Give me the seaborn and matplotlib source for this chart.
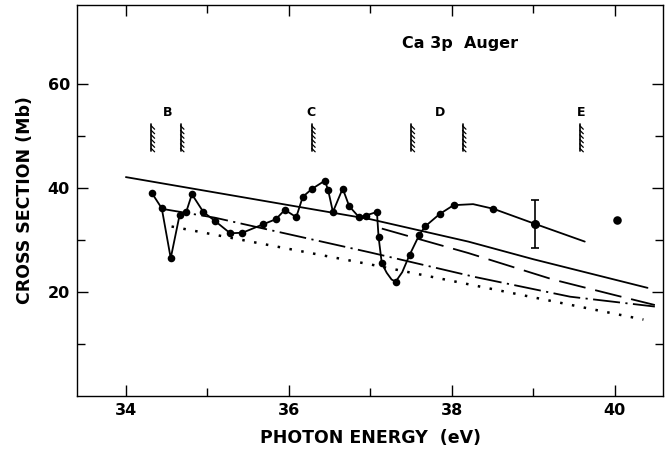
import matplotlib
matplotlib.use("Agg")
import matplotlib.pyplot as plt
import matplotlib.patheffects as pe
from matplotlib.ticker import FixedLocator
import seaborn as sns
import pandas as pd

# ---------------- data ----------------
# measured points (filled circles)
energy_pts = [34.32, 34.44, 34.55, 34.66, 34.74, 34.81, 34.95, 35.09, 35.28, 35.43,
              35.68, 35.84, 35.95, 36.09, 36.17, 36.28, 36.44, 36.48, 36.54, 36.66,
              36.74, 36.86, 36.94, 37.08, 37.10, 37.14, 37.31, 37.48, 37.60, 37.67,
              37.85, 38.02, 38.51]
xsec_pts = [39.0, 36.1, 26.5, 34.9, 35.4, 38.8, 35.4, 33.7, 31.3, 31.4,
            33.0, 34.0, 35.8, 34.4, 38.3, 39.8, 41.4, 39.7, 35.4, 39.9,
            36.5, 34.4, 34.7, 35.4, 30.6, 25.5, 22.0, 27.1, 31.0, 32.6,
            35.0, 36.7, 36.0]

# point with error bar
err_energy = [39.02]
err_xsec = [33.1]
err_size = [4.6]

# isolated point
lone_energy = [40.03]
lone_xsec = [33.8]

# drawn guide curve through the data
trace_energy = [34.32, 34.44, 34.55, 34.66, 34.74, 34.81, 34.95, 35.09, 35.28, 35.43,
                35.68, 35.84, 35.95, 36.09, 36.17, 36.28, 36.44, 36.48, 36.54, 36.66,
                36.74, 36.86, 36.94, 37.08, 37.10, 37.14, 37.20, 37.26, 37.31, 37.39,
                37.48, 37.60, 37.67, 37.85, 38.02, 38.26, 38.51, 39.02, 39.63]
trace_xsec = [39.0, 36.1, 26.5, 34.9, 35.4, 38.8, 35.4, 33.7, 31.3, 31.4,
              33.0, 34.0, 35.8, 34.4, 38.3, 39.8, 41.4, 39.7, 35.4, 39.9,
              36.5, 34.4, 34.7, 35.4, 30.6, 25.5, 23.7, 22.4, 22.0, 23.8,
              27.1, 31.0, 32.6, 35.0, 36.7, 36.9, 36.0, 33.1, 29.7]

# theory curves
solid_energy = [34.0, 37.0, 38.2, 39.0, 40.4]
solid_xsec = [42.1, 34.0, 29.7, 26.3, 20.8]

dash_energy = [37.14, 38.2, 39.24, 40.0, 40.49]
dash_xsec = [32.2, 27.5, 22.4, 19.4, 17.5]

dashdot_energy = [34.44, 35.09, 37.0, 38.28, 39.45, 40.49]
dashdot_xsec = [36.0, 34.3, 27.6, 22.9, 19.1, 17.2]

dot_energy = [34.56, 37.0, 40.35]
dot_xsec = [32.6, 25.3, 14.7]

# thresholds
edge_energy = [34.31, 34.67, 36.28, 37.50, 38.13, 39.57]
edge_labels = ["B", "C", "D", "E"]
edge_label_energy = [34.51, 36.27, 37.85, 39.59]

x_major = [34, 36, 38, 40]
x_minor = [35, 37, 39]
y_major = [20, 40, 60]
y_minor = [10, 30, 50]

# ---------------- figure ----------------
sns.set_theme(style="ticks")
plt.rcParams['font.family'] = ['DejaVu Sans']
plt.rcParams['font.weight'] = 'bold'
plt.rcParams['text.color'] = 'black'
plt.rcParams['axes.labelcolor'] = 'black'
plt.rcParams['xtick.color'] = 'black'
plt.rcParams['ytick.color'] = 'black'

fig = plt.figure(figsize=(6.71, 4.5), dpi=100)
ax = fig.add_axes([77 / 671, 1 - 396 / 450, (663 - 77) / 671, (396 - 5) / 450])

lw = 1.3
sns.lineplot(x=solid_energy, y=solid_xsec, ax=ax, color="black", lw=lw)
sns.lineplot(x=dash_energy, y=dash_xsec, ax=ax, color="black", lw=lw,
             linestyle=(0, (15, 5.5)))
sns.lineplot(x=dashdot_energy, y=dashdot_xsec, ax=ax, color="black", lw=lw,
             linestyle=(0, (15, 3, 1.2, 3)))
sns.lineplot(x=dot_energy, y=dot_xsec, ax=ax, color="black", lw=1.8,
             linestyle=(0, (1, 3.8)))
sns.lineplot(x=trace_energy, y=trace_xsec, ax=ax, color="black", lw=lw, sort=False)

sns.scatterplot(x=energy_pts, y=xsec_pts, ax=ax, color="black", s=30, linewidth=0)
sns.scatterplot(x=lone_energy, y=lone_xsec, ax=ax, color="black", s=38, linewidth=0)
ax.errorbar(err_energy, err_xsec, yerr=err_size, fmt="o", color="black",
            ms=5.5, elinewidth=1.2, capsize=3, capthick=1.2)

# threshold markers: vertical bar with hatch ticks on its right side
for xe in edge_energy:
    ax.plot([xe, xe], [52.4, 47.2], color="black", lw=1.2,
            path_effects=[pe.withTickedStroke(angle=45, spacing=3.2, length=1.1,
                                              linewidth=0.9)])
for lab, xl in zip(edge_labels, edge_label_energy):
    ax.text(xl, 54.6, lab, ha="center", va="center", fontsize=9, fontweight="bold")

ax.text(38.1, 67.7, "Ca 3p  Auger", ha="center", va="center", fontsize=11.5,
        fontweight="bold")

ax.set_xlim(33.4, 40.59)
ax.set_ylim(0, 75.2)
ax.xaxis.set_major_locator(FixedLocator(x_major))
ax.xaxis.set_minor_locator(FixedLocator(x_minor))
ax.yaxis.set_major_locator(FixedLocator(y_major))
ax.yaxis.set_minor_locator(FixedLocator(y_minor))
ax.tick_params(which="both", direction="in", top=True, right=True, width=1.0,
               colors="black", labelsize=11.5, pad=5)
ax.tick_params(which="major", length=8)
ax.tick_params(which="minor", length=5.5)
for lbl in ax.get_xticklabels() + ax.get_yticklabels():
    lbl.set_fontweight("bold")
for sp in ax.spines.values():
    sp.set_linewidth(1.0)
    sp.set_color("black")

ax.set_xlabel("PHOTON ENERGY  (eV)", fontsize=12.5, fontweight="bold", labelpad=8)
ax.set_ylabel("CROSS SECTION (Mb)", fontsize=12.5, fontweight="bold", labelpad=10)

fig.savefig("out.png", dpi=100)
